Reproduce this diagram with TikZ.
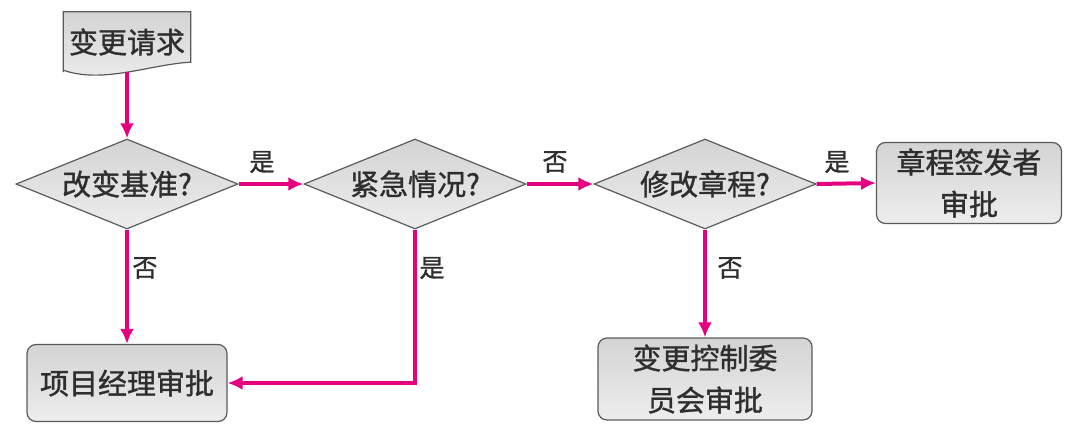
\documentclass[tikz,border=0pt]{standalone}
\usepackage{fontspec}
\setmainfont{Noto Sans CJK SC}[FakeBold=1.2]
\usetikzlibrary{shapes.geometric,arrows.meta,backgrounds}

\definecolor{flowpink}{HTML}{E4007F}
\definecolor{edgegray}{HTML}{5A5A5A}

\begin{document}
\begin{tikzpicture}[x=1pt, y=-1pt,
                    every node/.style = {font=\fontsize{29}{42}\selectfont,
                    text=black!82, align=center},
                    boxshade/.style={draw=edgegray, line width=1.2pt,
                    top color=black!17, bottom color=black!7},
                    decision/.style={boxshade, shape=diamond, inner sep=0pt,
                    aspect=2.5, minimum width=222pt, minimum height=90pt},
                    approval/.style={boxshade, shape=rectangle, rounded corners=9pt},
                    flow/.style={draw=flowpink, line width=4pt,
                    -{Latex[length=15pt,width=14pt]}},
                    answer/.style={font=\fontsize{25}{28}\selectfont, inner sep=0pt}]
  \useasboundingbox (0,0) rectangle (1071,431);

  % request document
  \node[inner sep=0pt, minimum width=127pt, minimum height=60pt] (req) at (127,42) {变更请求};
  \begin{scope}[on background layer]
    \draw[boxshade] (req.south west) -- (req.north west) -- (req.north east)
      -- ([yshift=10pt]req.south east) .. controls +(-40,2) and +(40,14) .. ([yshift=2pt]req.south west)
      -- cycle;
  \end{scope}

  % decisions
  \node[decision] (base) at (127,184) {改变基准?};
  \node[decision] (urgent) at (415,184) {紧急情况?};
  \node[decision] (charter) at (705,184) {修改章程?};

  % approvals
  \node[approval, minimum width=200pt, minimum height=77pt] (pm) at (127,383) {项目经理审批};
  \node[approval, minimum width=185pt, minimum height=81pt] (sponsor) at (969,183) {章程签发者\\审批};
  \node[approval, minimum width=214pt, minimum height=82pt] (ccb) at (705,379) {变更控制委\\员会审批};

  % connectors
  \draw[flow] (req.south) -- (base.north);
  \draw[flow] (base.east) -- (urgent.west);
  \draw[flow] (urgent.east) -- (charter.west);
  \draw[flow] (charter.east) -- (sponsor.west);
  \draw[flow] (base.south) -- (pm.north);
  \draw[flow] (urgent.south) |- (pm.east);
  \draw[flow] (charter.south) -- (ccb.north);

  % answers
  \node[answer] (yes1) at (262,162) {是};
  \node[answer] (no1) at (555,162) {否};
  \node[answer] (yes2) at (837,162) {是};
  \node[answer] (no2) at (145,268) {否};
  \node[answer] (yes3) at (432,268) {是};
  \node[answer] (no3) at (730,268) {否};
\end{tikzpicture}
\end{document}
